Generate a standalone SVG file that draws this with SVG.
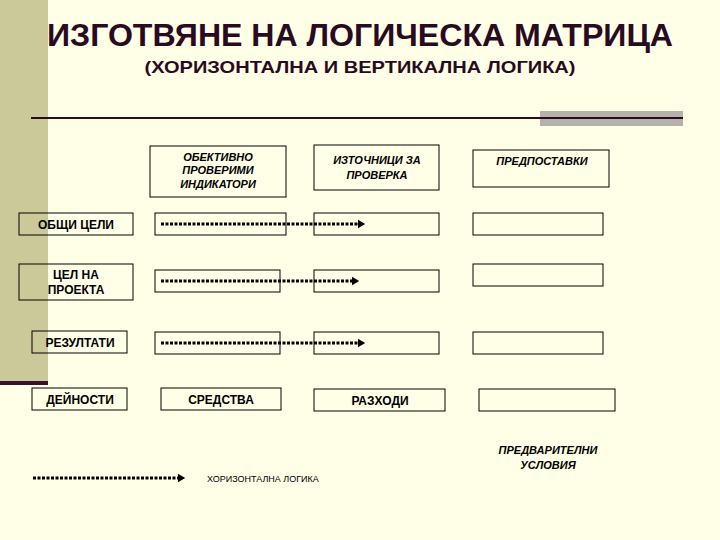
<svg xmlns="http://www.w3.org/2000/svg" width="720" height="540" viewBox="0 0 720 540">
<style>
.b{fill:none;stroke:#000;stroke-width:1}
.t{font-family:"Liberation Sans",Arial,sans-serif;font-weight:bold;fill:#000;text-anchor:middle}
.s{font-size:12px}
.i{font-style:italic;font-size:11px}
.a{stroke:#000;stroke-width:3;stroke-dasharray:3,1.5;fill:none}
</style>
<defs><marker id="ah" markerWidth="4" markerHeight="4" refX="1" refY="2" orient="auto" markerUnits="strokeWidth"><path d="M0,0.6L2.4,2L0,3.4z" fill="#000"/></marker></defs>
<rect width="720" height="540" fill="#ffffe8"/>
<rect x="0" y="0" width="48" height="383" fill="#cbc99a"/>
<rect x="0" y="381" width="48" height="4" fill="#3a1030"/>
<rect x="540" y="111" width="143" height="15" fill="#b4b2aa"/>
<line x1="31" y1="118" x2="683" y2="118" stroke="#2a0a20" stroke-width="2"/>
<text x="360" y="46" class="t" style="font-size:31px;fill:#2a0a20" textLength="626" lengthAdjust="spacingAndGlyphs">ИЗГОТВЯНЕ НА ЛОГИЧЕСКА МАТРИЦА</text>
<text x="360" y="73" class="t" style="font-size:17px;fill:#2a0a20" textLength="431" lengthAdjust="spacingAndGlyphs">(ХОРИЗОНТАЛНА И ВЕРТИКАЛНА ЛОГИКА)</text>
<g id="h1"><rect class="b" x="150" y="146" width="136" height="51"/><text class="t i" x="218" y="161">ОБЕКТИВНО</text><text class="t i" x="218" y="174">ПРОВЕРИМИ</text><text class="t i" x="218" y="188">ИНДИКАТОРИ</text></g>
<g id="h2"><rect class="b" x="314" y="145" width="125" height="45"/><text class="t i" x="377" y="164">ИЗТОЧНИЦИ ЗА</text><text class="t i" x="377" y="179">ПРОВЕРКА</text></g>
<g id="h3"><rect class="b" x="473" y="150" width="136" height="37"/><text class="t i" x="542" y="165">ПРЕДПОСТАВКИ</text></g>
<g id="r1"><rect class="b" x="19" y="213" width="114" height="22"/><text class="t s" x="76" y="229">ОБЩИ ЦЕЛИ</text></g>
<g id="r2"><rect class="b" x="19" y="264" width="114" height="36"/><text class="t s" x="76" y="279">ЦЕЛ НА</text><text class="t s" x="76" y="294">ПРОЕКТА</text></g>
<g id="r3"><rect class="b" x="32" y="331" width="95" height="22"/><text class="t s" x="80" y="347">РЕЗУЛТАТИ</text></g>
<g id="r4"><rect class="b" x="32" y="388" width="95" height="22"/><text class="t s" x="80" y="404">ДЕЙНОСТИ</text></g>
<g id="c11"><rect class="b" x="155" y="213" width="131" height="22"/></g>
<g id="c12"><rect class="b" x="314" y="213" width="125" height="22"/></g>
<g id="c13"><rect class="b" x="473" y="213" width="130" height="22"/></g>
<g id="c21"><rect class="b" x="155" y="270" width="125" height="22"/></g>
<g id="c22"><rect class="b" x="314" y="270" width="125" height="22"/></g>
<g id="c23"><rect class="b" x="473" y="264" width="130" height="22"/></g>
<g id="c31"><rect class="b" x="155" y="332" width="125" height="22"/></g>
<g id="c32"><rect class="b" x="314" y="332" width="125" height="22"/></g>
<g id="c33"><rect class="b" x="473" y="332" width="130" height="22"/></g>
<g id="c41"><rect class="b" x="161" y="388" width="120" height="22"/><text class="t s" x="221" y="404">СРЕДСТВА</text></g>
<g id="c42"><rect class="b" x="314" y="389" width="131" height="22"/><text class="t s" x="380" y="405">РАЗХОДИ</text></g>
<g id="c43"><rect class="b" x="479" y="389" width="136" height="22"/></g>
<text class="t i" x="548" y="454">ПРЕДВАРИТЕЛНИ</text>
<text class="t i" x="548" y="469">УСЛОВИЯ</text>
<text x="207" y="482" style="font-family:'Liberation Sans',Arial,sans-serif;font-size:9px;fill:#000">ХОРИЗОНТАЛНА ЛОГИКА</text>
<g id="connectors">
<line class="a" x1="161" y1="224" x2="361" y2="224" marker-end="url(#ah)"/>
<line class="a" x1="161" y1="281" x2="355" y2="281" marker-end="url(#ah)"/>
<line class="a" x1="161" y1="343" x2="361" y2="343" marker-end="url(#ah)"/>
<line class="a" x1="33" y1="478" x2="181" y2="478" marker-end="url(#ah)"/>
</g>
</svg>
